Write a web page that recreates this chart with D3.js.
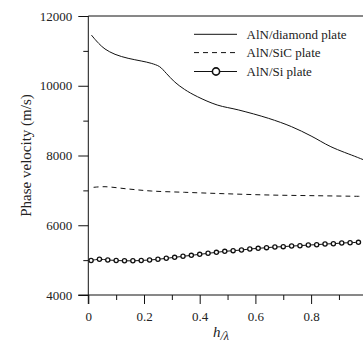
<!DOCTYPE html>
<html>
<head>
<meta charset="utf-8">
<script src="https://cdn.jsdelivr.net/npm/d3@7"></script>
<style>
  html, body { margin: 0; padding: 0; background: #fff; }
  svg { display: block; }
</style>
</head>
<body>
<svg id="chart" width="363" height="343"></svg>
<script>
// ---- data ----
const diamondH = [0.011, 0.037, 0.06, 0.096, 0.143, 0.19, 0.226, 0.256, 0.28, 0.309, 0.345, 0.392, 0.463, 0.54, 0.647, 0.73, 0.80, 0.871, 0.966, 1.0];
const diamondV = [11455, 11217, 11054, 10901, 10787, 10710, 10643, 10547, 10357, 10117, 9898, 9686, 9448, 9305, 9066, 8826, 8559, 8252, 7948, 7840];

const sicH = [0.019, 0.06, 0.143, 0.226, 0.345, 0.487, 0.65, 0.817, 0.97, 1.0];
const sicV = [7088, 7105, 7040, 6982, 6945, 6905, 6867, 6847, 6830, 6828];

const siH = [0.01, 0.04, 0.07, 0.10, 0.13, 0.16, 0.19, 0.22, 0.25, 0.28, 0.31, 0.34, 0.37, 0.40, 0.43, 0.46, 0.49,
             0.52, 0.55, 0.58, 0.61, 0.64, 0.67, 0.70, 0.73, 0.76, 0.79, 0.82, 0.85, 0.88, 0.91, 0.94, 0.97];
const siV = [4990, 5025, 5004, 4990, 4980, 4980, 4990, 5004, 5023, 5052, 5080, 5109, 5137, 5166, 5195, 5223, 5252,
             5271, 5290, 5319, 5338, 5357, 5376, 5386, 5405, 5414, 5433, 5443, 5462, 5471, 5491, 5500, 5510];

const xMajorTicks = [0, 0.2, 0.4, 0.6, 0.8];
const xMinorTicks = [0.1, 0.3, 0.5, 0.7, 0.9];
const yMajorTicks = [4000, 6000, 8000, 10000, 12000];
const yMinorTicks = [5000, 7000, 9000, 11000];

const legendLabels = ["AlN/diamond plate", "AlN/SiC plate", "AlN/Si plate"];

// ---- layout ----
const FONT = "'Liberation Serif', 'Times New Roman', serif";
const svg = d3.select("#chart").style("font-family", FONT);
const mL = 88.3, mR = 366.8, mT = 16, mB = 295;
const x = d3.scaleLinear().domain([0, 1]).range([mL, mR]);
const y = d3.scaleLinear().domain([4000, 12000]).range([mB, mT]);
const ink = "#111";

// top border
svg.append("line").attr("x1", mL).attr("x2", mR).attr("y1", mT).attr("y2", mT)
  .attr("stroke", ink).attr("stroke-width", 1);

// Y axis
const yAxis = d3.axisLeft(y).tickValues(yMajorTicks).tickSize(10).tickFormat(d3.format("d")).tickSizeOuter(0);
const gy = svg.append("g").attr("transform", `translate(${mL},0)`).call(yAxis);
gy.attr("font-family", null);
gy.select(".domain").attr("stroke", ink).attr("d", `M0,${mT}V${mB + 9}`);
gy.selectAll(".tick line").attr("stroke", ink);
gy.selectAll(".tick text").attr("x", -16).attr("fill", "#222")
  .style("font-family", FONT).style("font-size", "13px");
svg.append("g").attr("transform", `translate(${mL},0)`)
  .call(d3.axisLeft(y).tickValues(yMinorTicks).tickSize(5).tickFormat(""))
  .call(g => g.select(".domain").remove())
  .selectAll(".tick line").attr("stroke", ink);

// X axis
const xAxis = d3.axisBottom(x).tickValues(xMajorTicks).tickSize(9).tickFormat(d => d === 0 ? "0" : d3.format(".1f")(d)).tickSizeOuter(0);
const gx = svg.append("g").attr("transform", `translate(0,${mB})`).call(xAxis);
gx.attr("font-family", null);
gx.select(".domain").attr("stroke", ink).attr("d", `M${mL - 10},0H${mR}`);
gx.selectAll(".tick line").attr("stroke", ink);
gx.selectAll(".tick text").attr("y", 17).attr("fill", "#222")
  .style("font-family", FONT).style("font-size", "13px");
svg.append("g").attr("transform", `translate(0,${mB})`)
  .call(d3.axisBottom(x).tickValues(xMinorTicks).tickSize(5).tickFormat(""))
  .call(g => g.select(".domain").remove())
  .selectAll(".tick line").attr("stroke", ink);

// axis titles
svg.append("text")
  .attr("transform", `translate(30.5,${(mT + mB) / 2}) rotate(-90)`)
  .attr("text-anchor", "middle").attr("fill", "#222")
  .style("font-family", FONT).style("font-size", "15px")
  .text("Phase velocity (m/s)");

const xt = svg.append("text").attr("x", 213).attr("y", 337).attr("fill", "#222")
  .style("font-family", FONT).style("font-size", "15px");
xt.append("tspan").attr("font-style", "italic").text("h");
xt.append("tspan").style("font-size", "12px").attr("dy", 3).attr("font-style", "italic").text("/λ");

// ---- series ----
const line = d3.line().x(d => x(d[0])).y(d => y(d[1])).curve(d3.curveCatmullRom.alpha(0.5));
const plot = svg.append("g");

plot.append("path").datum(d3.zip(diamondH, diamondV))
  .attr("d", line).attr("fill", "none").attr("stroke", ink).attr("stroke-width", 1);

plot.append("path").datum(d3.zip(sicH, sicV))
  .attr("d", line).attr("fill", "none").attr("stroke", ink).attr("stroke-width", 1)
  .attr("stroke-dasharray", "5,4");

const siData = d3.zip(siH, siV);
plot.append("path").datum(siData)
  .attr("d", line).attr("fill", "none").attr("stroke", ink).attr("stroke-width", 1);
plot.selectAll("circle.si").data(siData).join("circle")
  .attr("class", "si")
  .attr("cx", d => x(d[0])).attr("cy", d => y(d[1])).attr("r", 2.1)
  .attr("fill", "#fff").attr("stroke", ink).attr("stroke-width", 1.3);

// ---- legend ----
const lg = svg.append("g");
const rowY = [34.3, 52.6, 71.5];
const lx1 = 194, lx2 = 237;
legendLabels.forEach((lab, i) => {
  const ln = lg.append("line").attr("x1", lx1).attr("x2", lx2).attr("y1", rowY[i]).attr("y2", rowY[i])
    .attr("stroke", ink).attr("stroke-width", 1);
  if (i === 1) ln.attr("stroke-dasharray", "5,4");
  if (i === 2) lg.append("circle").attr("cx", (lx1 + lx2) / 2 + 0.5).attr("cy", rowY[i]).attr("r", 3.6)
    .attr("fill", "#fff").attr("stroke", ink).attr("stroke-width", 1.6);
  lg.append("text").attr("x", 246.5).attr("y", rowY[i] + 4.5).attr("fill", "#222")
    .style("font-family", FONT).style("font-size", "13px").text(lab);
});
</script>
</body>
</html>
